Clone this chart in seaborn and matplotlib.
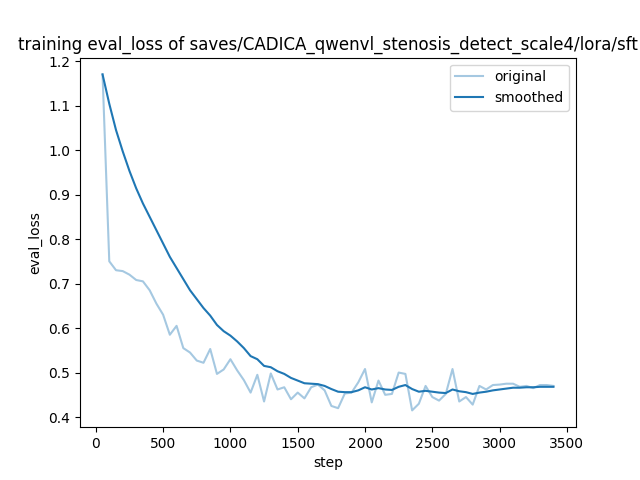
import matplotlib
matplotlib.use('Agg')
import matplotlib.pyplot as plt
import seaborn as sns
import numpy as np

# eval steps (every 50)
steps = list(range(50, 3401, 50))

original = [
    1.17, 0.75, 0.73, 0.728, 0.72, 0.708, 0.705, 0.685, 0.655, 0.63,
    0.585, 0.605, 0.555, 0.545, 0.527, 0.522, 0.553, 0.497, 0.507, 0.53,
    0.505, 0.483, 0.455, 0.495, 0.435, 0.498, 0.462, 0.467, 0.44, 0.455,
    0.442, 0.467, 0.473, 0.46, 0.425, 0.42, 0.453, 0.455, 0.478, 0.508,
    0.433, 0.482, 0.45, 0.452, 0.5, 0.497, 0.415, 0.43, 0.47, 0.445,
    0.437, 0.452, 0.508, 0.435, 0.445, 0.428, 0.47, 0.462, 0.472, 0.473,
    0.475, 0.475, 0.468, 0.47, 0.465, 0.472, 0.472, 0.47,
]

smoothed = [
    1.17, 1.104, 1.045, 0.997, 0.953, 0.914, 0.88, 0.85, 0.82, 0.79,
    0.76, 0.735, 0.71, 0.685, 0.665, 0.645, 0.628, 0.607, 0.593, 0.583,
    0.57, 0.555, 0.537, 0.53, 0.515, 0.512, 0.503, 0.497, 0.488, 0.482,
    0.476, 0.475, 0.474, 0.47, 0.463, 0.457, 0.456, 0.456, 0.46, 0.467,
    0.462, 0.465, 0.462, 0.461, 0.468, 0.472, 0.463, 0.457, 0.459, 0.457,
    0.455, 0.454, 0.462, 0.458, 0.456, 0.452, 0.455, 0.457, 0.46, 0.462,
    0.464, 0.466, 0.466, 0.467, 0.467, 0.468, 0.468, 0.468,
]

fig, ax = plt.subplots(figsize=(6.4, 4.8), dpi=100)
sns.lineplot(x=steps, y=original, color='#1f77b4', alpha=0.4, label='original', ax=ax)
sns.lineplot(x=steps, y=smoothed, color='#1f77b4', label='smoothed', ax=ax)

ax.set_title('training eval_loss of saves/CADICA_qwenvl_stenosis_detect_scale4/lora/sft')
ax.set_xlabel('step')
ax.set_ylabel('eval_loss')
ax.legend(loc='upper right')
plt.savefig('out.png', format='png', dpi=100)
